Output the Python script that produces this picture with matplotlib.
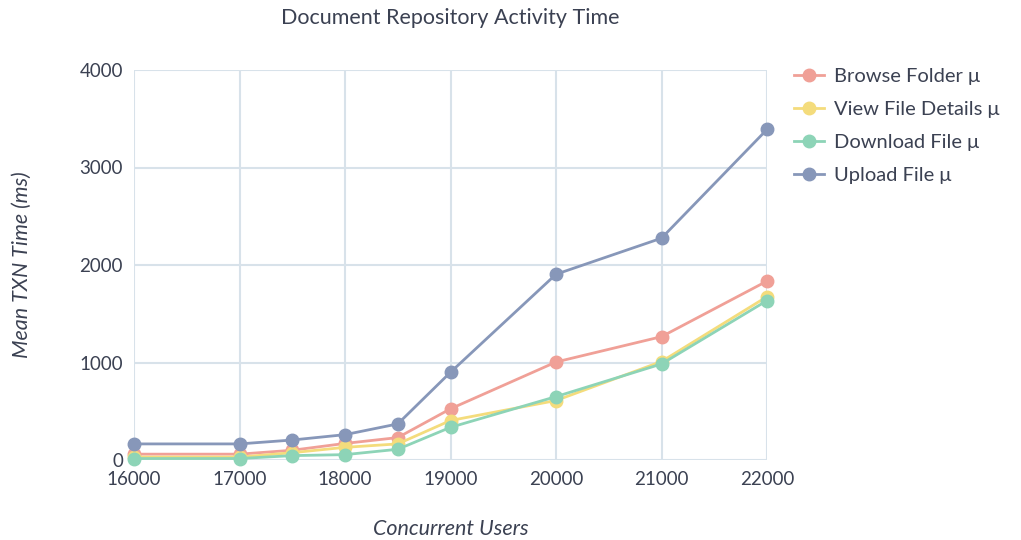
import matplotlib
matplotlib.use("Agg")
import matplotlib.pyplot as plt

plt.rcParams['font.family'] = ['Lato', 'DejaVu Sans']

users = [16000, 17000, 17500, 18000, 18500, 19000, 20000, 21000, 22000]
browse_folder = [60, 60, 100, 170, 230, 525, 1005, 1265, 1835]
view_details = [30, 30, 75, 130, 165, 405, 610, 1010, 1675]
download_file = [15, 15, 45, 55, 110, 335, 650, 985, 1635]
upload_file = [165, 165, 205, 260, 370, 900, 1905, 2275, 3390]

series = [
    ("Browse Folder μ", browse_folder, "#f0a097"),
    ("View File Details μ", view_details, "#f4dc7c"),
    ("Download File μ", download_file, "#8dd4b7"),
    ("Upload File μ", upload_file, "#8797b9"),
]

text_col = "#3b4152"
grid_col = "#d8e2ea"

fig = plt.figure(figsize=(10.21, 5.4), dpi=100)
ax = fig.add_axes([134 / 1021, 80 / 540, 633 / 1021, 390 / 540])

for name, vals, col in series:
    ax.plot(users, vals, color=col, lw=2, marker="o", markersize=9,
            label=name, clip_on=False, zorder=3)

ax.set_xlim(16000, 22000)
ax.set_ylim(0, 4000)
ax.set_xticks(range(16000, 22001, 1000))
ax.set_yticks(range(0, 4001, 1000))
ax.grid(True, color=grid_col, lw=1.5)
ax.set_axisbelow(True)
for s in ax.spines.values():
    s.set_visible(False)
ax.tick_params(length=0, labelsize=13.5, colors=text_col, pad=8)

ax.set_xlabel("Concurrent Users", fontsize=15.5, style="italic",
              color=text_col, labelpad=22)
ax.set_ylabel("Mean TXN Time (ms)", fontsize=15.5, style="italic",
              color=text_col, labelpad=34)
fig.text(450 / 1021, 1 - 18 / 540, "Document Repository Activity Time",
         ha="center", va="center", fontsize=15.5, color=text_col)

leg = ax.legend(loc="upper left", bbox_to_anchor=(776 / 1021, 1 - 50 / 540),
                bbox_transform=fig.transFigure, frameon=False, fontsize=14.5,
                handlelength=1.5, labelspacing=0.78, handletextpad=0.5)
for t in leg.get_texts():
    t.set_color(text_col)

fig.savefig("out.png", dpi=100)
